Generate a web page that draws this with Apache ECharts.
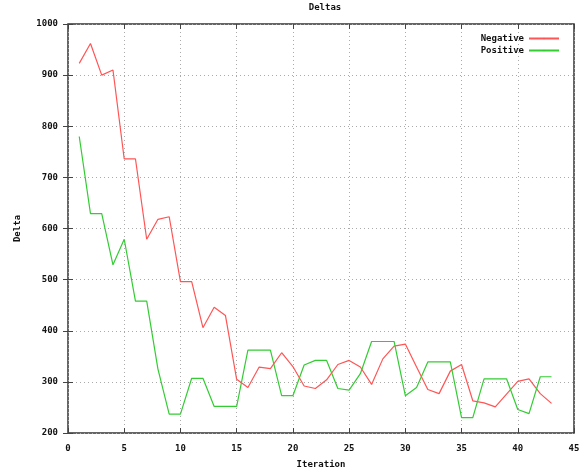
<!DOCTYPE html>
<html>
<head>
<meta charset="utf-8">
<script src="https://cdn.jsdelivr.net/npm/echarts@6/dist/echarts.min.js"></script>
<style>
html, body { margin: 0; padding: 0; background: #fff; }
#main { width: 585px; height: 474px; }
</style>
</head>
<body>
<div id="main"></div>
<script>
var iterations = [1,2,3,4,5,6,7,8,9,10,11,12,13,14,15,16,17,18,19,20,21,22,23,24,25,26,27,28,29,30,31,32,33,34,35,36,37,38,39,40,41,42,43];
var negative = [923,962,900,910,736,736,579,618,623,496,496,406,446,430,305,289,329,326,357,330,292,287,304,334,342,329,295,345,370,374,329,285,277,321,334,263,259,251,276,301,306,277,258];
var positive = [780,629,629,529,579,458,458,325,237,237,307,307,252,252,252,362,362,362,273,273,333,342,342,287,284,316,379,379,379,273,289,339,339,339,230,230,306,306,306,246,238,310,310];
var xTicks = { min: 0, max: 45, interval: 5 };
var yTicks = { min: 200, max: 1000, interval: 100 };

var dom = document.getElementById('main');
var myChart = echarts.init(dom);

function pairs(vals) {
    return iterations.map(function (x, i) { return [x, vals[i]]; });
}
function plain(v) { return String(v); }

var fontMono = 'DejaVu Sans Mono';
var txt = { fontFamily: fontMono, fontSize: 9, fontWeight: 'bold', color: '#111' };

var option = {
    backgroundColor: '#fff',
    animation: false,
    title: {
        text: 'Deltas',
        left: 320,
        top: -2,
        textAlign: 'center',
        textStyle: txt
    },
    legend: {
        orient: 'vertical',
        right: 20,
        top: 29,
        align: 'right',
        itemWidth: 30,
        itemHeight: 2,
        itemGap: 3,
        textStyle: txt,
        data: ['Negative', 'Positive']
    },
    grid: {
        left: 68,
        right: 11,
        top: 24,
        bottom: 38,
        show: true,
        borderColor: '#333',
        borderWidth: 1.5
    },
    xAxis: [
        {
            type: 'value',
            min: xTicks.min, max: xTicks.max, interval: xTicks.interval,
            name: 'Iteration',
            nameLocation: 'middle',
            nameGap: 27,
            nameTextStyle: txt,
            axisLine: { show: false },
            axisTick: { inside: true, length: 5, lineStyle: { color: '#444' } },
            axisLabel: Object.assign({ margin: 11, formatter: plain }, txt),
            splitLine: { show: true, lineStyle: { color: '#aaa', type: [1, 3] } }
        },
        {
            type: 'value', position: 'top',
            min: xTicks.min, max: xTicks.max, interval: xTicks.interval,
            axisLine: { show: false },
            axisTick: { inside: true, length: 5, lineStyle: { color: '#444' } },
            axisLabel: { show: false },
            splitLine: { show: false }
        }
    ],
    yAxis: [
        {
            type: 'value',
            min: yTicks.min, max: yTicks.max, interval: yTicks.interval,
            name: 'Delta',
            nameLocation: 'middle',
            nameGap: 46,
            nameTextStyle: txt,
            axisLine: { show: false },
            axisTick: { inside: true, length: 5, lineStyle: { color: '#444' } },
            axisLabel: Object.assign({ margin: 10, formatter: plain }, txt),
            splitLine: { show: true, lineStyle: { color: '#aaa', type: [1, 3] } }
        },
        {
            type: 'value', position: 'right',
            min: yTicks.min, max: yTicks.max, interval: yTicks.interval,
            axisLine: { show: false },
            axisTick: { inside: true, length: 5, lineStyle: { color: '#444' } },
            axisLabel: { show: false },
            splitLine: { show: false }
        }
    ],
    series: [
        {
            name: 'Negative',
            type: 'line',
            symbol: 'none',
            data: pairs(negative),
            itemStyle: { color: '#f55' },
            lineStyle: { color: '#f55', width: 1.2 }
        },
        {
            name: 'Positive',
            type: 'line',
            symbol: 'none',
            data: pairs(positive),
            itemStyle: { color: '#3c3' },
            lineStyle: { color: '#3c3', width: 1.2 }
        }
    ]
};

if (option && typeof option === "object") {
    myChart.setOption(option, true);
}
</script>
</body>
</html>
